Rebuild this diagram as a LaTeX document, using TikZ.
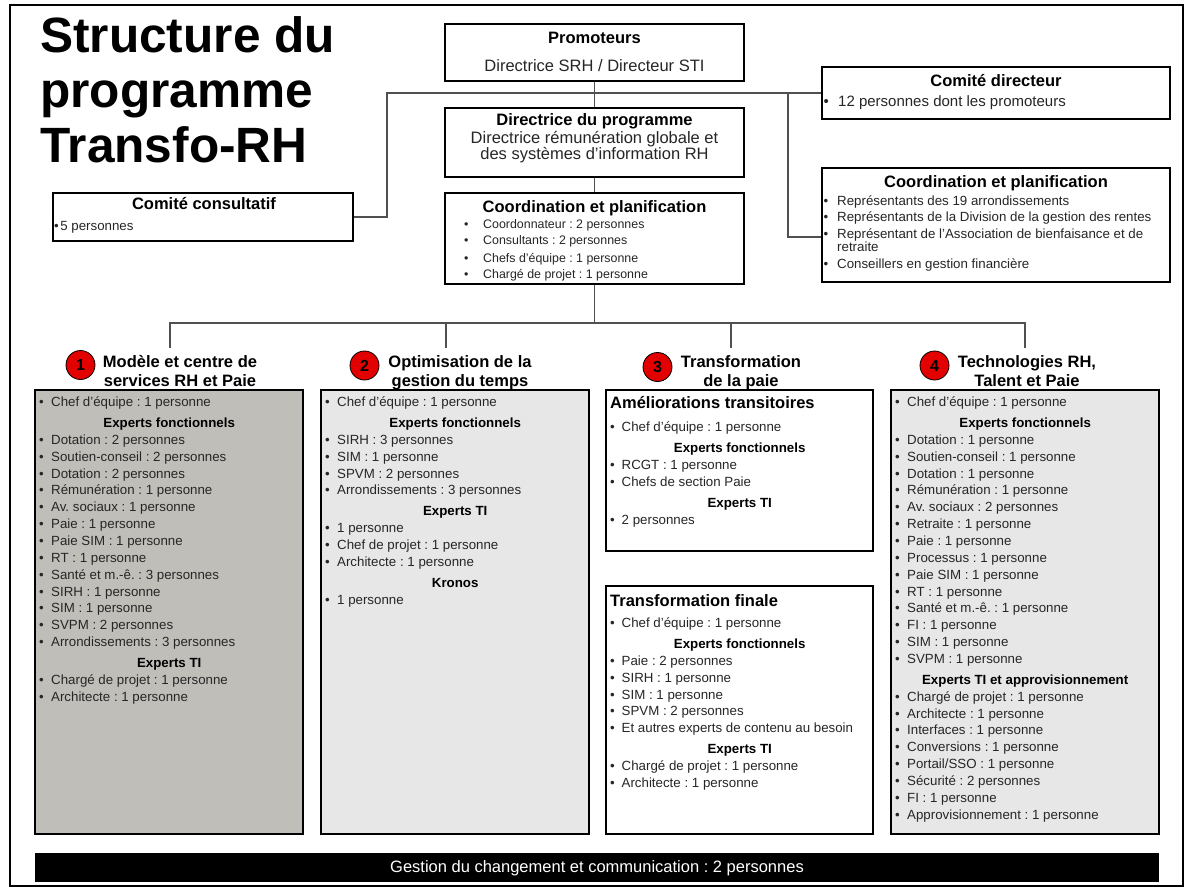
\documentclass[tikz,border=0pt]{standalone}
\usepackage{fontspec}
\setmainfont{Liberation Sans}
\usetikzlibrary{fit}
\definecolor{gA}{RGB}{191,190,185}
\definecolor{gB}{RGB}{231,231,231}
\definecolor{redc}{RGB}{226,0,0}
\definecolor{lnc}{RGB}{80,80,80}
\definecolor{txt}{RGB}{38,38,38}
\frenchspacing
\newlength\bulw
\newcommand\fs[2]{\fontsize{#1}{#2}\selectfont}
\newcommand\bitem[1]{\par\noindent\hangindent\bulw\hangafter1\makebox[\bulw][l]{\textbullet}#1}
\newcommand\subh[1]{\par\vspace{4.15pt}{\centering\bfseries\color{black}#1\par}}
\begin{document}
\begin{tikzpicture}[x=1pt,y=-1pt,
  box/.style={draw=black, line width=1.9pt, inner sep=0pt},
  conn/.style={draw=lnc, line width=1.4pt},
  ttl/.style={inner sep=0pt, anchor=base, font={\bfseries\fs{16.5}{19}}},
  sub/.style={inner sep=0pt, anchor=base, text=txt, font={\fs{16.5}{14}}},
  lst/.style={inner sep=0pt, anchor=base west, text=txt},
  hd/.style={inner sep=0pt, anchor=base, font={\bfseries\fs{16.5}{19.5}}},
  circ/.style={circle, draw=black, line width=0.8pt, fill=redc, minimum size=29pt, inner sep=0pt, font={\bfseries\fs{16}{16}}}]
\useasboundingbox (0,0) rectangle (1192,888);
\fill[white] (0,0) rectangle (1192,888);
\draw[line width=1.5pt] (10,5) rectangle (1183,886);

% title
\node[inner sep=0pt, anchor=base west, font={\bfseries\fs{49.6}{55}}] (title) at (40,53)
  {\parbox[t]{380pt}{\raggedright Structure du\\programme\\Transfo-RH}};

% boxes
\node[box, fit={(445,24) (744,81)}] (prom) {};
\node[box, fit={(445,108) (744,177)}] (dir) {};
\node[box, fit={(445,193) (744,284)}] (ccp) {};
\node[box, fit={(822,67) (1170,119)}] (cd) {};
\node[box, fit={(822,168) (1170,282)}] (rcp) {};
\node[box, fit={(53,193) (353,241)}] (cc) {};
\node[box, fill=gA, fit={(35,390) (303,834)}] (c1) {};
\node[box, fill=gB, fit={(321,390) (589,834)}] (c2) {};
\node[box, fill=white, fit={(606,390) (873,551)}] (c3a) {};
\node[box, fill=white, fit={(606,586) (873,834)}] (c3b) {};
\node[box, fill=gB, fit={(891,390) (1159,834)}] (c4) {};
\node[fill=black, inner sep=0pt, fit={(35,853) (1159,882)}] (bar) {};

% connectors
\coordinate (hub) at (594.5,323);
\coordinate (t1) at (170,348);
\coordinate (t2) at (446,348);
\coordinate (t3) at (731,348);
\coordinate (t4) at (1025,348);
\coordinate (lj) at (387,93);
\coordinate (rj) at (788,93);
\coordinate (rk) at (788,237);
\draw[conn] (prom.south) -- (dir.north);
\draw[conn] (dir.south) -- (ccp.north);
\draw[conn] (ccp.south) -- (hub);
\draw[conn] (t1) |- (hub) -| (t4);
\draw[conn] (t2) -- (t2 |- hub);
\draw[conn] (t3) -- (t3 |- hub);
\draw[conn] (cc.east) -| (lj) -- (cd.west);
\draw[conn] (rj) -- (rk) -- (rk -| rcp.west);

% Promoteurs
\node[ttl] (promT) at (594.5,44) {Promoteurs};
\node[sub] (promS) at (594.5,72) {Directrice SRH / Directeur STI};
% Directrice
\node[ttl] (dirT) at (594.5,126) {Directrice du programme};
\node[sub] (dirS1) at (594.5,143.5) {Directrice rémunération globale et};
\node[sub] (dirS2) at (594.5,159.5) {des systèmes d’information RH};
% Coordination centre
\node[ttl] (ccpT) at (594.5,212) {Coordination et planification};
\node[lst] (ccpL) at (464,228) {\parbox[t]{270pt}{\fs{12.4}{17}\setlength\bulw{19pt}%
  \bitem{Coordonnateur : 2 personnes}%
  \bitem{Consultants : 2 personnes}%
  \bitem{Chefs d’équipe : 1 personne}%
  \bitem{Chargé de projet : 1 personne}}};
% Comite directeur
\node[ttl] (cdT) at (996,87) {Comité directeur};
\node[lst] (cdL) at (823.5,107) {\parbox[t]{340pt}{\fs{15}{17}\setlength\bulw{14.5pt}%
  \bitem{12 personnes dont les promoteurs}}};
% Coordination droite
\node[ttl] (rcpT) at (996,188) {Coordination et planification};
\node[lst] (rcpL) at (823.5,205) {\parbox[t]{342pt}{\fs{13.3}{14}\setlength\parskip{2.5pt}\setlength\bulw{13.5pt}%
  \bitem{Représentants des 19 arrondissements}%
  \bitem{Représentants de la Division de la gestion des rentes}%
  \bitem{Représentant de l’Association de bienfaisance et de\\retraite}%
  \bitem{Conseillers en gestion financière}}};
% Comite consultatif
\node[ttl] (ccT) at (204,210) {Comité consultatif};
\node[lst, font={\fs{13.3}{16}}] (ccL) at (54,230) {\textbullet\hspace{1.5pt}5 personnes};

% column headers
\node[circ] (n1) at (80.5,365) {1};
\node[circ] (n2) at (364.5,365.5) {2};
\node[circ] (n3) at (657.5,367) {3};
\node[circ] (n4) at (934.5,365.5) {4};
\node[hd] (h1) at (180,367) {\parbox[t]{220pt}{\centering Modèle et centre de\\services RH et Paie}};
\node[hd] (h2) at (460,367) {\parbox[t]{220pt}{\centering Optimisation de la\\gestion du temps}};
\node[hd] (h3) at (741,367) {\parbox[t]{220pt}{\centering Transformation\\de la paie}};
\node[hd] (h4) at (1027,367) {\parbox[t]{220pt}{\centering Technologies RH,\\Talent et Paie}};

% column 1
\node[lst] (c1L) at (39,406.5) {\parbox[t]{260pt}{\fs{13.3}{16.85}\setlength\bulw{12pt}%
  \bitem{Chef d’équipe : 1 personne}%
  \subh{Experts fonctionnels}%
  \bitem{Dotation : 2 personnes}%
  \bitem{Soutien-conseil : 2 personnes}%
  \bitem{Dotation : 2 personnes}%
  \bitem{Rémunération : 1 personne}%
  \bitem{Av. sociaux : 1 personne}%
  \bitem{Paie : 1 personne}%
  \bitem{Paie SIM : 1 personne}%
  \bitem{RT : 1 personne}%
  \bitem{Santé et m.-ê. : 3 personnes}%
  \bitem{SIRH : 1 personne}%
  \bitem{SIM : 1 personne}%
  \bitem{SVPM : 2 personnes}%
  \bitem{Arrondissements : 3 personnes}%
  \subh{Experts TI}%
  \bitem{Chargé de projet : 1 personne}%
  \bitem{Architecte : 1 personne}}};

% column 2
\node[lst] (c2L) at (325,406.5) {\parbox[t]{260pt}{\fs{13.3}{16.85}\setlength\bulw{12pt}%
  \bitem{Chef d’équipe : 1 personne}%
  \subh{Experts fonctionnels}%
  \bitem{SIRH : 3 personnes}%
  \bitem{SIM : 1 personne}%
  \bitem{SPVM : 2 personnes}%
  \bitem{Arrondissements : 3 personnes}%
  \subh{Experts TI}%
  \bitem{1 personne}%
  \bitem{Chef de projet : 1 personne}%
  \bitem{Architecte : 1 personne}%
  \subh{Kronos}%
  \bitem{1 personne}}};

% column 3
\node[inner sep=0pt, anchor=base west, font={\bfseries\fs{16.5}{19}}] (c3aT) at (610,408) {Améliorations transitoires};
\node[lst] (c3aL) at (610,431.5) {\parbox[t]{259pt}{\fs{13.3}{16.85}\setlength\bulw{11.5pt}%
  \bitem{Chef d’équipe : 1 personne}%
  \subh{Experts fonctionnels}%
  \bitem{RCGT : 1 personne}%
  \bitem{Chefs de section Paie}%
  \subh{Experts TI}%
  \bitem{2 personnes}}};
\node[inner sep=0pt, anchor=base west, font={\bfseries\fs{16.5}{19}}] (c3bT) at (610,606) {Transformation finale};
\node[lst] (c3bL) at (610,627.5) {\parbox[t]{259pt}{\fs{13.3}{16.85}\setlength\bulw{11.5pt}%
  \bitem{Chef d’équipe : 1 personne}%
  \subh{Experts fonctionnels}%
  \bitem{Paie : 2 personnes}%
  \bitem{SIRH : 1 personne}%
  \bitem{SIM : 1 personne}%
  \bitem{SPVM : 2 personnes}%
  \bitem{Et autres experts de contenu au besoin}%
  \subh{Experts TI}%
  \bitem{Chargé de projet : 1 personne}%
  \bitem{Architecte : 1 personne}}};

% column 4
\node[lst] (c4L) at (895,406.5) {\parbox[t]{260pt}{\fs{13.3}{16.85}\setlength\bulw{12pt}%
  \bitem{Chef d’équipe : 1 personne}%
  \subh{Experts fonctionnels}%
  \bitem{Dotation : 1 personne}%
  \bitem{Soutien-conseil : 1 personne}%
  \bitem{Dotation : 1 personne}%
  \bitem{Rémunération : 1 personne}%
  \bitem{Av. sociaux : 2 personnes}%
  \bitem{Retraite : 1 personne}%
  \bitem{Paie : 1 personne}%
  \bitem{Processus : 1 personne}%
  \bitem{Paie SIM : 1 personne}%
  \bitem{RT : 1 personne}%
  \bitem{Santé et m.-ê. : 1 personne}%
  \bitem{FI : 1 personne}%
  \bitem{SIM : 1 personne}%
  \bitem{SVPM : 1 personne}%
  \subh{Experts TI et approvisionnement}%
  \bitem{Chargé de projet : 1 personne}%
  \bitem{Architecte : 1 personne}%
  \bitem{Interfaces : 1 personne}%
  \bitem{Conversions : 1 personne}%
  \bitem{Portail/SSO : 1 personne}%
  \bitem{Sécurité : 2 personnes}%
  \bitem{FI : 1 personne}%
  \bitem{Approvisionnement : 1 personne}}};

% bottom bar
\node[inner sep=0pt, anchor=base, text=white, font={\fs{16.5}{19}}] (barT) at (597,872) {Gestion du changement et communication : 2 personnes};
\end{tikzpicture}
\end{document}
